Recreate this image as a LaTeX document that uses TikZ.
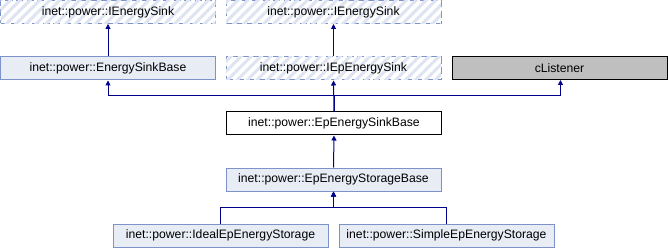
\documentclass[tikz,border=0pt]{standalone}
\usepackage{fontspec}
\setmainfont{Liberation Sans}
\usetikzlibrary{arrows.meta,patterns.meta}
\definecolor{boxfill}{RGB}{232,236,245}
\definecolor{boxline}{RGB}{124,146,200}
\definecolor{hatchline}{RGB}{222,228,241}
\definecolor{edgecol}{RGB}{0,0,139}
\definecolor{extfill}{RGB}{191,191,191}
\tikzset{
  cls/.style={draw=boxline, fill=boxfill, line width=1pt, minimum width=215pt,
    minimum height=23pt, inner sep=0pt, font=\fontsize{12.2}{14}\selectfont},
  iface/.style={cls, fill=white, dash pattern=on 7pt off 3.5pt,
    postaction={pattern={Lines[angle=45,distance=7pt,line width=3pt]}, pattern color=hatchline}},
  ext/.style={cls, draw=black, fill=extfill},
  cur/.style={cls, draw=black, fill=white},
  inh/.style={draw=edgecol, line width=1pt, -{Triangle[length=5pt,width=5pt]}},
}
\begin{document}
\begin{tikzpicture}[x=1pt,y=-1pt]
\useasboundingbox (0,0) rectangle (668,248);
\node[iface] (ies1) at (108,12) {inet::power::IEnergySink};
\node[iface] (ies2) at (333.5,12) {inet::power::IEnergySink};
\node[cls] (esb) at (108,68.5) {inet::power::EnergySinkBase};
\node[iface] (iep) at (333.5,68.5) {inet::power::IEpEnergySink};
\node[ext] (cl) at (559.5,68) {cListener};
\node[cur] (epsb) at (334,123.5) {inet::power::EpEnergySinkBase};
\node[cls] (stb) at (333.5,179.5) {inet::power::EpEnergyStorageBase};
\node[cls] (ideal) at (220.5,235.5) {inet::power::IdealEpEnergyStorage};
\node[cls] (simple) at (446.5,235.5) {inet::power::SimpleEpEnergyStorage};
% inheritance edges
\draw[inh] (esb.north) -- (ies1.south);
\draw[inh] (iep.north) -- (ies2.south);
\draw[inh] (epsb.north) -- (iep.south);
\draw[inh] (epsb.north) -- ++(0,-16) -| (esb.south);
\draw[inh] (epsb.north) -- ++(0,-16) -| ([xshift=1pt]cl.south);
\draw[inh] (stb.north) -- (epsb.south);
\draw[inh] (ideal.north) -- ++(0,-16) -| (stb.south);
\draw[inh] (simple.north) -- ++(0,-16) -| (stb.south);
\end{tikzpicture}
\end{document}
